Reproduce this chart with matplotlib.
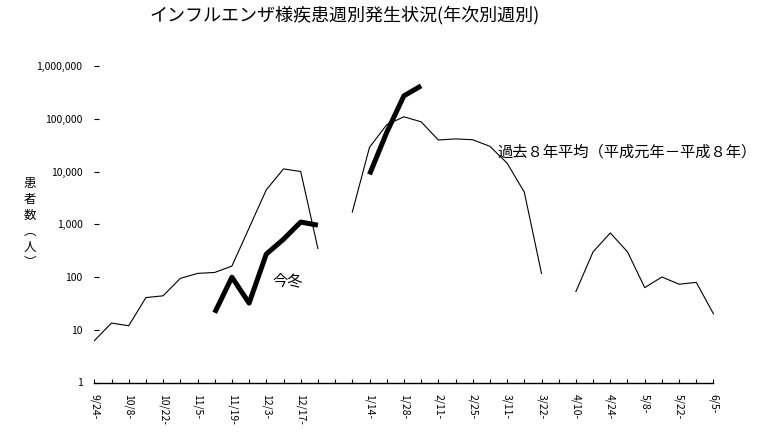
import numpy as np
import matplotlib
matplotlib.use('Agg')
import matplotlib.pyplot as plt
from matplotlib.ticker import FixedLocator, NullLocator

plt.rcParams['font.family'] = ['Noto Sans CJK JP', 'DejaVu Sans']

nan = np.nan

weeks = ['9/24-', '', '10/8-', '', '10/22-', '', '11/5-', '', '11/19-', '',
         '12/3-', '', '12/17-', '', '', '', '1/14-', '', '1/28-', '',
         '2/11-', '', '2/25-', '', '3/11-', '', '3/22-', '', '4/10-', '',
         '4/24-', '', '5/8-', '', '5/22-', '', '6/5-']

# 過去8年平均 (平成元年-平成8年)
past_avg = [6.2, 13.4, 11.9, 40.7, 44, 94, 117, 122, 161, 850,
            4500, 11200, 10000, 347, nan, 1700, 28700, 77000, 109000, 87500,
            39600, 41500, 40000, 30000, 14400, 4070, 117, nan, 53, 300,
            684, 300, 63, 100, 73, 79, 20]

# 今冬
this_winter = [nan, nan, nan, nan, nan, nan, nan, 21, 99, 32,
               272, 520, 1100, 960, nan, nan, 8800, 55000, 272000, 420000,
               nan, nan, nan, nan, nan, nan, nan, nan, nan, nan,
               nan, nan, nan, nan, nan, nan, nan]

yticks = [1, 10, 100, 1000, 10000, 100000, 1000000]

W, H = 770, 447
fig = plt.figure(figsize=(W / 100, H / 100), dpi=100)
ax = fig.add_axes([94.3 / W, 1 - 382.5 / H, (713.5 - 94.3) / W, (382.5 - 66) / H])

x = np.arange(len(weeks))
ax.plot(x, past_avg, color='black', lw=0.8)
ax.plot(x, this_winter, color='black', lw=3.6, solid_capstyle='butt')

ax.set_yscale('log')
ax.set_ylim(1, 1000000)
ax.set_xlim(0, len(weeks) - 1)
ax.yaxis.set_major_locator(FixedLocator(yticks))
ax.yaxis.set_minor_locator(NullLocator())
ax.set_yticklabels([f'{v:,}' for v in yticks])
ax.set_xticks(x)
ax.set_xticklabels(weeks, rotation=270, va='top', ha='center')

for s in ['top', 'right', 'left']:
    ax.spines[s].set_visible(False)
ax.spines['bottom'].set_linewidth(1.0)
ax.tick_params(axis='y', direction='in', length=3.5, width=0.8, pad=8.5, labelsize=7.5)
ax.tick_params(axis='x', direction='in', length=3, width=0.8, pad=8, labelsize=7.5)

fig.text(345 / W, 1 - 15 / H, 'インフルエンザ様疾患週別発生状況(年次別週別)',
         ha='center', va='center', fontsize=13)
fig.text(272 / W, 1 - 281 / H, '今冬', ha='left', va='center', fontsize=11)
fig.text(497 / W, 1 - 152 / H, '過去８年平均（平成元年－平成８年）',
         ha='left', va='center', fontsize=11)
fig.text(30 / W, 1 - 223 / H, '患\n者\n数\n︵\n人\n︶', ha='center', va='center',
         fontsize=9, linespacing=1.3)

fig.savefig('out.png', dpi=100)
